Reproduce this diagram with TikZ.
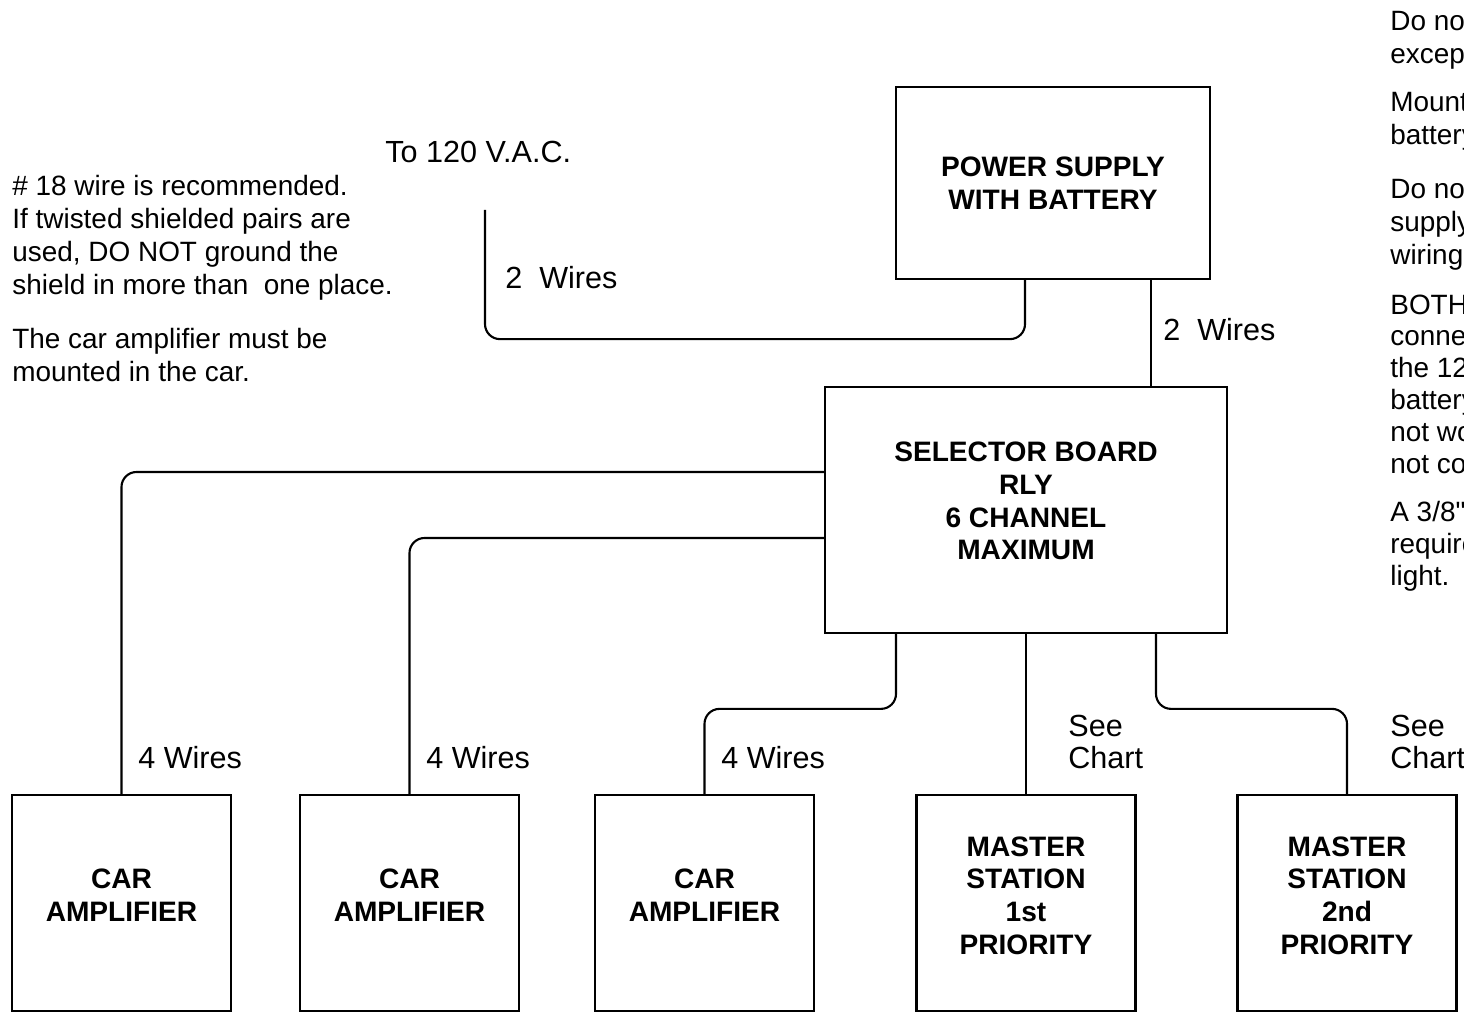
\documentclass[tikz,border=0pt]{standalone}
\usepackage{fontspec}
\setmainfont{Liberation Sans}[Ligatures=TeXOff]
\tikzset{
  unit/.style={draw, line width=1.3pt, align=center, inner sep=0pt,
    font=\fontsize{16}{18.6}\selectfont\bfseries},
  station/.style={unit, minimum width=4.38cm, minimum height=4.32cm, text depth=0.31cm},
  note/.style={align=left, inner sep=0pt, font=\fontsize{15.9}{18.7}\selectfont},
  wirelbl/.style={align=left, inner sep=0pt, anchor=west, font=\fontsize{17.4}{18.2}\selectfont},
  wire/.style={line width=1.2pt, rounded corners=0.3cm}
}
\begin{document}
\begin{tikzpicture}[x=0.02cm,y=-0.02cm]
\useasboundingbox (0,0) rectangle (1464,1013);
\clip (0,0) rectangle (1464,1013);
\node[unit, minimum width=6.28cm, minimum height=3.84cm] (ps) at (1053,183)
{POWER SUPPLY\\WITH BATTERY};
\node[unit, minimum width=8.04cm, minimum height=4.92cm, text depth=0.36cm] (sel) at (1026,510)
{SELECTOR BOARD\\RLY\\6 CHANNEL\\MAXIMUM};
\node[station] (car1) at (121.5,903) {CAR\\AMPLIFIER};
\node[station] (car2) at (409.5,903) {CAR\\AMPLIFIER};
\node[station] (car3) at (704.5,903) {CAR\\AMPLIFIER};
\node[station] (ms1) at (1026,903) {MASTER\\STATION\\1st\\PRIORITY};
\node[station] (ms2) at (1347,903) {MASTER\\STATION\\2nd\\PRIORITY};
\node[wirelbl] (mainslbl) at (385,152) {To 120 V.A.C.};
\node[wirelbl] (w1) at (505,278) {2\ \ Wires};
\node[wirelbl] (w2) at (1163,330) {2\ \ Wires};
\node[wirelbl] (w3) at (138,758) {4 Wires};
\node[wirelbl] (w4) at (426,758) {4 Wires};
\node[wirelbl] (w5) at (721,758) {4 Wires};
\node[wirelbl] (c1) at (1068,742) {See\\Chart};
\node[wirelbl] (c2) at (1390,742) {See\\Chart};
\node[note, anchor=west] (n1) at (12,238)
{\# 18 wire is recommended.\\If twisted shielded pairs are\\used, DO NOT ground the\\shield in more than\ \ one place.};
\node[note, anchor=west] (n2) at (12,355) {The car amplifier must be\\mounted in the car.};
\node[note, anchor=west] (r1) at (1390,40) {Do not\\except};
\node[note, anchor=west] (r2) at (1390,121) {Mount\\battery};
\node[note, anchor=west] (r3) at (1390,225) {Do not\\supply\\wiring};
\node[note, anchor=west, font=\fontsize{15.9}{18.1}\selectfont] (r4) at (1390,384)
{BOTH\\conne\\the 12\\battery\\not wo\\not co};
\node[note, anchor=west, font=\fontsize{15.9}{18.1}\selectfont] (r5) at (1390,546)
{A 3/8"\\require\\light.};
\coordinate (mains) at (485,210);
\coordinate (psout) at ([shift={(98,0)}]ps.south);
\draw[wire] (mains) |- ([shift={(-28,59)}]ps.south) -- ([shift={(-28,0)}]ps.south);
\draw[wire] (psout) -- (psout |- sel.north);
\draw[wire] ([shift={(0,-38)}]sel.west) -| (car1.north);
\draw[wire] ([shift={(0,28)}]sel.west) -| (car2.north);
\draw[wire] ([shift={(-130,0)}]sel.south) |- ([shift={(0,-85)}]car3.north) -- (car3.north);
\draw[wire] (sel.south) -- (ms1.north);
\draw[wire] ([shift={(130,0)}]sel.south) |- ([shift={(0,-85)}]ms2.north) -- (ms2.north);
\end{tikzpicture}
\end{document}
